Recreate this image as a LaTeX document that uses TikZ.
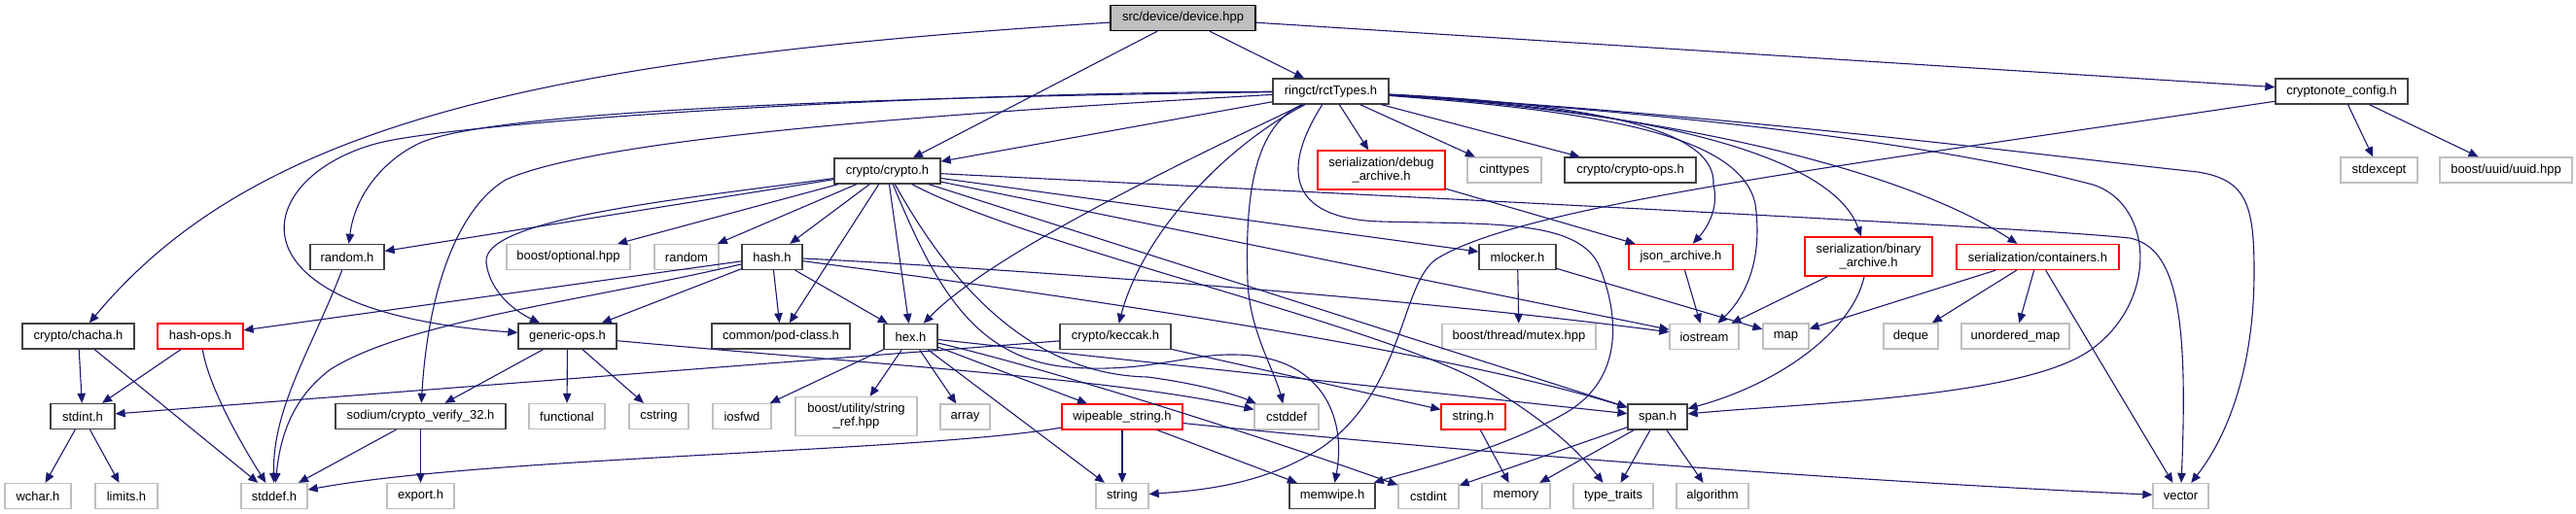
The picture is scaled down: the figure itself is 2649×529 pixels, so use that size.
\documentclass[tikz,border=0pt]{standalone}
\usepackage{fontspec}
\setmainfont{Liberation Sans}
\usetikzlibrary{arrows.meta}
\definecolor{edgeblue}{HTML}{191970}
\definecolor{grey25}{HTML}{404040}
\definecolor{grey75}{HTML}{BFBFBF}
\tikzset{
  nb/.style={draw=grey25, line width=1.3pt, fill=white, minimum height=26pt, inner sep=1pt,
             font=\fontsize{13}{14}\selectfont, text=black},
  ng/.style={nb, draw=grey75},
  nr/.style={nb, draw=red},
  nroot/.style={nb, draw=black, fill=grey75},
  e/.style={draw=edgeblue, line width=1.1pt, -{Triangle[length=10pt,width=8.5pt]}}
}
\begin{document}
\begin{tikzpicture}[x=1pt,y=-1pt]
\useasboundingbox (0,0) rectangle (2649,529);
% nodes
\node[nroot, minimum width=149pt] (dev) at (1216.5,18.5) {src/device/device.hpp};
\node[nb, minimum width=119pt] (rct) at (1368.5,94) {ringct/rctTypes.h};
\node[nb, minimum width=136pt] (cfg) at (2408,94) {cryptonote\_config.h};
\node[nb, minimum width=109pt] (cry) at (912.5,176) {crypto/crypto.h};
\node[nr, minimum width=131pt, minimum height=40pt, align=center] (dbg) at (1420.5,175) {serialization/debug\\\_archive.h};
\node[ng, minimum width=76pt] (cint) at (1547,175) {cinttypes};
\node[nb, minimum width=135pt] (cops) at (1676.5,175) {crypto/crypto-ops.h};
\node[ng, minimum width=79pt] (sexc) at (2446.5,175) {stdexcept};
\node[ng, minimum width=136pt] (uuid) at (2577,175) {boost/uuid/uuid.hpp};
\node[nb, minimum width=76pt] (rnd) at (357,264.5) {random.h};
\node[ng, minimum width=127pt] (bopt) at (584.5,264.5) {boost/optional.hpp};
\node[ng, minimum width=66pt] (rand) at (706,264.5) {random};
\node[nb, minimum width=62pt] (hash) at (794,264.5) {hash.h};
\node[nb, minimum width=79pt] (mlock) at (1560.5,264.5) {mlocker.h};
\node[nr, minimum width=107pt] (json) at (1728.5,264.5) {json\_archive.h};
\node[nr, minimum width=131pt, minimum height=40pt, align=center] (bin) at (1921.5,264) {serialization/binary\\\_archive.h};
\node[nr, minimum width=167pt] (cont) at (2095.5,264.5) {serialization/containers.h};
\node[nb, minimum width=115pt] (chacha) at (80.5,346) {crypto/chacha.h};
\node[nr, minimum width=88pt] (hops) at (206,346) {hash-ops.h};
\node[nb, minimum width=101pt] (gops) at (583.5,346) {generic-ops.h};
\node[nb, minimum width=142pt] (pod) at (803,346) {common/pod-class.h};
\node[nb, minimum width=55pt] (hex) at (936.5,346.5) {hex.h};
\node[nb, minimum width=114pt] (kec) at (1147,346.5) {crypto/keccak.h};
\node[ng, minimum width=158pt] (mutex) at (1562,346.5) {boost/thread/mutex.hpp};
\node[ng, minimum width=71pt] (iost) at (1752.5,346.5) {iostream};
\node[ng, minimum width=47pt] (map) at (1836.5,346) {map};
\node[ng, minimum width=56pt] (deque) at (1965,346) {deque};
\node[ng, minimum width=111pt] (umap) at (2072.5,346) {unordered\_map};
\node[nb, minimum width=66pt] (sint) at (85,428.5) {stdint.h};
\node[nb, minimum width=175pt] (sod) at (432.5,428.5) {sodium/crypto\_verify\_32.h};
\node[ng, minimum width=78pt] (func) at (583,428.5) {functional};
\node[ng, minimum width=61pt] (cstr) at (677.5,428.5) {cstring};
\node[ng, minimum width=60pt] (iosfwd) at (763,428.5) {iosfwd};
\node[ng, minimum width=125pt, minimum height=40pt, align=center] (sref) at (880.5,428.5) {boost/utility/string\\\_ref.hpp};
\node[ng, minimum width=51pt] (arr) at (992.5,429) {array};
\node[nr, minimum width=124pt] (wipe) at (1154,429) {wipeable\_string.h};
\node[ng, minimum width=66pt] (cdef) at (1323,429) {cstddef};
\node[nr, minimum width=66pt] (strh) at (1515,429) {string.h};
\node[nb, minimum width=61pt] (span) at (1704.5,429) {span.h};
\node[ng, minimum width=68pt] (wchar) at (39,510.5) {wchar.h};
\node[ng, minimum width=64pt] (lim) at (130,510.5) {limits.h};
\node[ng, minimum width=68pt] (sdef) at (282,510.5) {stddef.h};
\node[ng, minimum width=69pt] (exp) at (432.5,510.5) {export.h};
\node[ng, minimum width=54pt] (str) at (1154,510.5) {string};
\node[nb, minimum width=88pt] (mw) at (1370,510.5) {memwipe.h};
\node[ng, minimum width=62pt] (cint2) at (1469,510.5) {cstdint};
\node[ng, minimum width=70pt] (mem) at (1559,510.5) {memory};
\node[ng, minimum width=82pt] (tt) at (1659,510.5) {type\_traits};
\node[ng, minimum width=74pt] (alg) at (1761,510.5) {algorithm};
\node[ng, minimum width=57pt] (vec) at (2242.5,510.5) {vector};
% device.hpp
\draw[e] (dev) -- (cry);
\draw[e] (dev) -- (rct);
\draw[e] (dev) -- (cfg);
\draw[e] (dev) .. controls (550,60) and (260,130) .. (chacha);
% cryptonote_config.h
\draw[e] (cfg) -- (sexc);
\draw[e] (cfg) -- (uuid);
\draw[e] (cfg) .. controls (1900,170) and (1570,210) .. (1478,266) .. controls (1440,290) and (1445,400) .. (1360,460) .. controls (1300,500) and (1230,505) .. (str);
% rctTypes.h
\draw[e] (rct) -- (cry);
\draw[e] (rct) .. controls (900,100) and (500,114) .. (430,148) .. controls (395,165) and (365,200) .. (rnd);
\draw[e] (rct) .. controls (900,96) and (470,127) .. (390,147) .. controls (260,180) and (220,320) .. (gops);
\draw[e] (rct) .. controls (1000,115) and (620,140) .. (520,185) .. controls (470,215) and (440,300) .. (sod);
\draw[e] (rct) .. controls (1230,160) and (1020,260) .. (hex);
\draw[e] (rct) .. controls (1260,150) and (1175,240) .. (kec);
\draw[e] (rct) .. controls (1290,130) and (1280,200) .. (1283,290) .. controls (1285,340) and (1310,380) .. (cdef);
\draw[e] (rct) .. controls (1320,170) and (1320,225) .. (1420,228) .. controls (1530,231) and (1625,225) .. (1645,275) .. controls (1665,325) and (1670,390) .. (1610,425) .. controls (1540,465) and (1450,485) .. (mw);
\draw[e] (rct) .. controls (1800,120) and (2100,160) .. (2260,177) .. controls (2310,185) and (2318,210) .. (2318,280) .. controls (2318,380) and (2290,450) .. (vec);
\draw[e] (rct) .. controls (1750,118) and (2000,150) .. (2152,190) .. controls (2215,210) and (2220,310) .. (2150,360) .. controls (2080,410) and (1850,415) .. (span);
\draw[e] (rct) .. controls (1700,115) and (1950,170) .. (cont);
\draw[e] (rct) .. controls (1650,110) and (1880,150) .. (bin);
\draw[e] (rct) .. controls (1650,108) and (1765,135) .. (1762,190) .. controls (1768,215) and (1755,235) .. (json);
\draw[e] (rct) .. controls (1650,115) and (1790,140) .. (1805,210) .. controls (1812,260) and (1800,300) .. (iost);
\draw[e] (rct) -- (cint);
\draw[e] (rct) -- (cops);
\draw[e] (rct) -- (dbg);
% crypto.h
\draw[e] (cry) -- (rnd);
\draw[e] (cry) -- (bopt);
\draw[e] (cry) -- (rand);
\draw[e] (cry) -- (hash);
\draw[e] (cry) .. controls (700,205) and (495,225) .. (500,270) .. controls (503,297) and (525,318) .. (gops);
\draw[e] (cry) -- (pod);
\draw[e] (cry) -- (hex);
\draw[e] (cry) -- (mlock);
\draw[e] (cry) -- (iost);
\draw[e] (cry) -- (span);
\draw[e] (cry) .. controls (960,260) and (1040,385) .. (1180,388) .. controls (1240,396) and (1275,408) .. (cdef);
\draw[e] (cry) .. controls (960,290) and (1000,370) .. (1100,378) .. controls (1180,384) and (1220,364) .. (1270,365) .. controls (1360,366) and (1385,430) .. (mw);
\draw[e] (cry) .. controls (1050,250) and (1400,330) .. (1517,390) .. controls (1580,425) and (1620,460) .. (tt);
\draw[e] (cry) .. controls (1500,205) and (2100,235) .. (2190,245) .. controls (2240,255) and (2250,330) .. (vec);
% hash.h
\draw[e] (hash) -- (hops);
\draw[e] (hash) .. controls (600,310) and (420,330) .. (340,380) .. controls (300,410) and (288,450) .. (sdef);
\draw[e] (hash) -- (gops);
\draw[e] (hash) -- (pod);
\draw[e] (hash) -- (hex);
\draw[e] (hash) .. controls (950,272) and (1400,300) .. (iost);
\draw[e] (hash) .. controls (950,285) and (1450,350) .. (span);
% hash-ops.h, chacha.h, random.h
\draw[e] (hops) -- (sint);
\draw[e] (hops) .. controls (215,400) and (250,460) .. (sdef);
\draw[e] (chacha) -- (sint);
\draw[e] (chacha) -- (sdef);
\draw[e] (rnd) .. controls (320,360) and (280,420) .. (sdef);
% generic-ops.h
\draw[e] (gops) -- (sod);
\draw[e] (gops) -- (func);
\draw[e] (gops) -- (cstr);
\draw[e] (gops) .. controls (900,375) and (1150,390) .. (cdef);
% sodium
\draw[e] (sod) -- (sdef);
\draw[e] (sod) -- (exp);
% hex.h
\draw[e] (hex) -- (iosfwd);
\draw[e] (hex) -- (sref);
\draw[e] (hex) -- (arr);
\draw[e] (hex) -- (str);
\draw[e] (hex) -- (wipe);
\draw[e] (hex) -- (span);
\draw[e] (hex) .. controls (1080,380) and (1300,450) .. (cint2);
% keccak.h
\draw[e] (kec) -- (sint);
\draw[e] (kec) -- (strh);
% wipeable_string.h
\draw[e] (wipe) -- (str);
\draw[e] (wipe) -- (mw);
\draw[e] (wipe) .. controls (1500,465) and (1900,495) .. (vec);
\draw[e] (wipe) .. controls (950,465) and (500,470) .. (sdef);
% string.h, span.h
\draw[e] (strh) -- (mem);
\draw[e] (span) -- (cint2);
\draw[e] (span) -- (mem);
\draw[e] (span) -- (tt);
\draw[e] (span) -- (alg);
% mlocker.h, json, debug, binary, containers
\draw[e] (mlock) -- (mutex);
\draw[e] (mlock) -- (map);
\draw[e] (json) -- (iost);
\draw[e] (dbg) -- (json);
\draw[e] (bin) -- (iost);
\draw[e] (bin) .. controls (1905,340) and (1830,395) .. (span);
\draw[e] (cont) -- (map);
\draw[e] (cont) -- (deque);
\draw[e] (cont) -- (umap);
\draw[e] (cont) -- (vec);
% stdint.h
\draw[e] (sint) -- (wchar);
\draw[e] (sint) -- (lim);
\end{tikzpicture}
\end{document}
